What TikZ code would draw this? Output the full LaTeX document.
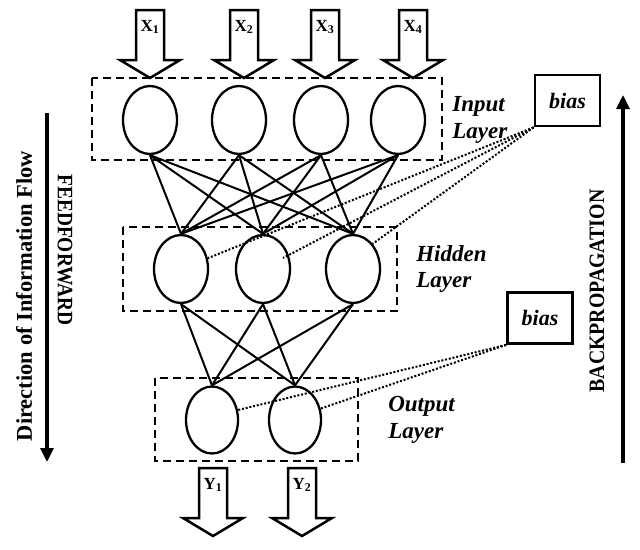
\documentclass[tikz,border=0pt]{standalone}
\usepackage{fontspec}
\setmainfont{Liberation Serif}
\usetikzlibrary{positioning, calc, shapes.geometric, arrows.meta}
\tikzset{
    neuron/.style={
        ellipse,
        draw,
        line width=2.3pt,
        minimum width=54pt,
        minimum height=68pt,
        inner sep=0pt
    },
    layerbox/.style={
        draw,
        line width=2pt,
        dash pattern=on 8pt off 5pt
    },
    layerlabel/.style={
        align=left,
        inner sep=0pt,
        font=\fontsize{23}{26.5}\selectfont\bfseries\itshape
    },
    biasnode/.style={
        draw,
        line width=2.8pt,
        minimum width=65pt,
        minimum height=51pt,
        font=\fontsize{22}{25}\selectfont\bfseries\itshape
    },
    weight/.style={
        line width=2pt
    },
    biasline/.style={
        line width=2pt,
        dash pattern=on 2pt off 1.8pt
    },
    flow/.style={
        -{Triangle[length=14pt, width=13pt]},
        line width=3.2pt
    },
    sidetext/.style={
        font=\fontsize{22}{26}\selectfont\bfseries
    },
    ioarrow/.pic={
        \draw[line width=2.5pt, line join=miter] (-14,0) -- (-14,50) -- (-30,50) -- (0,68) -- (30,50) -- (14,50) -- (14,0) -- cycle;
        \node[font=\fontsize{17}{20}\selectfont\bfseries] (-lbl) at (0,17) {#1};
    }
}

\begin{document}
\begin{tikzpicture}[x=1pt, y=-1pt]
        \useasboundingbox (0,0) rectangle (640,549);

        % input arrows
        \pic (x1) at (150,10) {ioarrow={X\textsubscript{1}}};
        \pic (x2) at (244,10) {ioarrow={X\textsubscript{2}}};
        \pic (x3) at (325,10) {ioarrow={X\textsubscript{3}}};
        \pic (x4) at (413,10) {ioarrow={X\textsubscript{4}}};

        % layers
        \draw[layerbox] (92,78) rectangle (442,160);
        \node[neuron] (i1) at (150,120) {};
        \node[neuron] (i2) at (239,120) {};
        \node[neuron] (i3) at (321,120) {};
        \node[neuron] (i4) at (398,120) {};

        \draw[layerbox] (123,227) rectangle (397,311);
        \node[neuron] (h1) at (181,269) {};
        \node[neuron] (h2) at (263,269) {};
        \node[neuron] (h3) at (353,269) {};

        \draw[layerbox] (155,378) rectangle (358,461);
        \node[neuron, minimum width=52pt, minimum height=67pt] (o1) at (212,420) {};
        \node[neuron, minimum width=52pt, minimum height=67pt] (o2) at (295,420) {};

        \node[layerlabel, right=26pt of i4] (inlabel) {Input\\Layer};
        \node[layerlabel, right=35pt of h3] (hidlabel) {Hidden\\Layer};
        \node[layerlabel, right=66pt of o2] (outlabel) {Output\\Layer};

        % weights
        \foreach \i in {1,...,4}
            \foreach \h in {1,2,3}
                \draw[weight] (i\i.south) -- (h\h.north);
        \foreach \h in {1,2,3}
            \foreach \o in {1,2}
                \draw[weight] (h\h.south) -- (o\o.north);

        % bias
        \node[biasnode] (b1) at (567.5,100.5) {bias};
        \node[biasnode] (b2) at (540,318) {bias};
        \draw[biasline] (b1.south west) -- (h1.22);
        \draw[biasline] (b1.south west) -- ($(h2)+(20,-11)$);
        \draw[biasline] (b1.south west) -- (h3.52);
        \draw[biasline] (b2.south west) -- (o1.21);
        \draw[biasline] (b2.south west) -- (o2.24);

        % output arrows
        \pic (y1) at (213,468) {ioarrow={Y\textsubscript{1}}};
        \pic (y2) at (302,468) {ioarrow={Y\textsubscript{2}}};

        % direction arrows
        \coordinate (ffstart) at (47,113);
        \coordinate (ffend) at (47,462);
        \draw[flow] (ffstart) -- (ffend);
        \node[sidetext, font=\fontsize{22.5}{26}\selectfont\bfseries, rotate=90] (dirtext) at (24,296) {Direction of Information Flow};
        \node[sidetext, rotate=-90] (fftext) at (65,250) {\scalebox{0.88}[1]{FEEDFORWARD}};

        \coordinate (bpstart) at (623,463);
        \coordinate (bpend) at (623,95);
        \draw[flow] (bpstart) -- (bpend);
        \node[sidetext, rotate=90] (bptext) at (597,291) {\scalebox{0.9}[1]{BACKPROPAGATION}};
    \end{tikzpicture}
\end{document}
